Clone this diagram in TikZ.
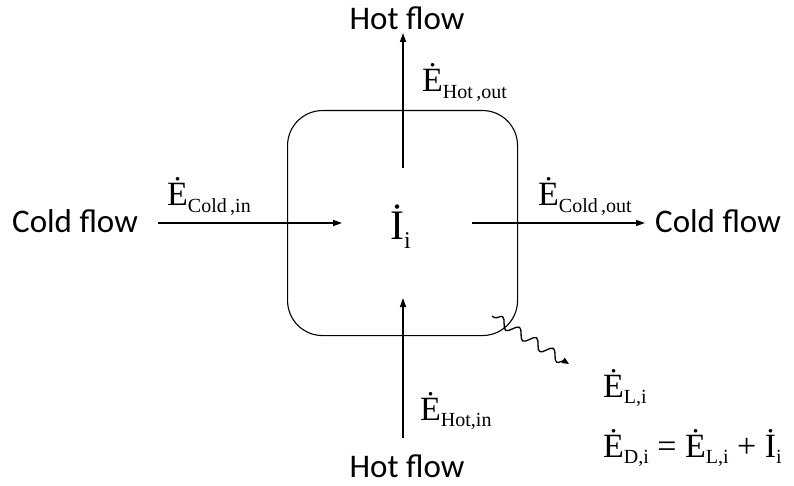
\documentclass[tikz,border=0pt]{standalone}
\usepackage{fontspec}
\setmainfont{Liberation Serif}
\newfontfamily\flowfont{Carlito}
\usetikzlibrary{arrows.meta,decorations.pathmorphing}
\newcommand{\Edot}[3]{{\fontsize{#1}{#1}\selectfont Ė\raisebox{-0.2em}{\fontsize{#2}{#2}\selectfont #3}}}
\newcommand{\Idot}[3]{{\fontsize{#1}{#1}\selectfont İ\raisebox{-0.2em}{\fontsize{#2}{#2}\selectfont #3}}}
\begin{document}
\begin{tikzpicture}[x=1pt,y=-1pt,
  flow/.style={font=\flowfont\fontsize{33}{33}\selectfont, inner sep=0pt, anchor=base west},
  lbl/.style={inner sep=0pt, anchor=base west},
  arr/.style={line width=1.4pt, -{Triangle[length=9pt,width=6pt]}},
  box/.style={draw, line width=1.1pt, rounded corners=35pt}]
\useasboundingbox (0,0) rectangle (794,486);
\node[box, minimum width=230pt, minimum height=225pt, anchor=north west] (box) at (287,110) {};
% arrow endpoints
\coordinate (hotoutS) at (403,168);
\coordinate (hotoutE) at (403,33);
\coordinate (hotinS) at (403,438);
\coordinate (hotinE) at (403,298);
\coordinate (coldinS) at (158,223);
\coordinate (coldinE) at (342,223);
\coordinate (coldoutS) at (472,223);
\coordinate (coldoutE) at (645,223);
\coordinate (lossS) at (492,316);
\coordinate (lossE) at (569,364);
\draw[arr] (hotoutS) -- (hotoutE);
\draw[arr] (hotinS) -- (hotinE);
\draw[arr] (coldinS) -- (coldinE);
\draw[arr] (coldoutS) -- (coldoutE);
\draw[line width=1.3pt, -{Triangle[length=7pt,width=6pt]},
  decorate, decoration={snake, amplitude=5pt, segment length=20pt, pre length=3pt, post length=4pt}] (lossS) -- (lossE);
% texts
\node[flow, anchor=base] (hottop) at (407,30) {Hot flow};
\node[flow, anchor=base] (hotbot) at (407,477) {Hot flow};
\node[flow] (coldleft) at (12,233) {Cold flow};
\node[flow] (coldright) at (655,233) {Cold flow};
\node[lbl] (eci) at (167,206) {\Edot{34}{20}{Cold\,,in}};
\node[lbl] (eho) at (422,92) {\Edot{34}{20}{Hot\,,out}};
\node[lbl] (eco) at (538,206) {\Edot{34}{20}{Cold\,,out}};
\node[lbl] (ehi) at (420,420) {\Edot{34}{20}{Hot,in}};
\node[lbl] (ii) at (390,240) {\Idot{42}{24}{i}};
\node[lbl] (eli) at (603,397) {\Edot{34}{20}{L,i}};
\node[lbl] (eq) at (603,457) {\Edot{34}{20}{D,i}\fontsize{34}{34}\selectfont\ = \Edot{34}{20}{L,i} + \Idot{34}{20}{i}};
\end{tikzpicture}
\end{document}
